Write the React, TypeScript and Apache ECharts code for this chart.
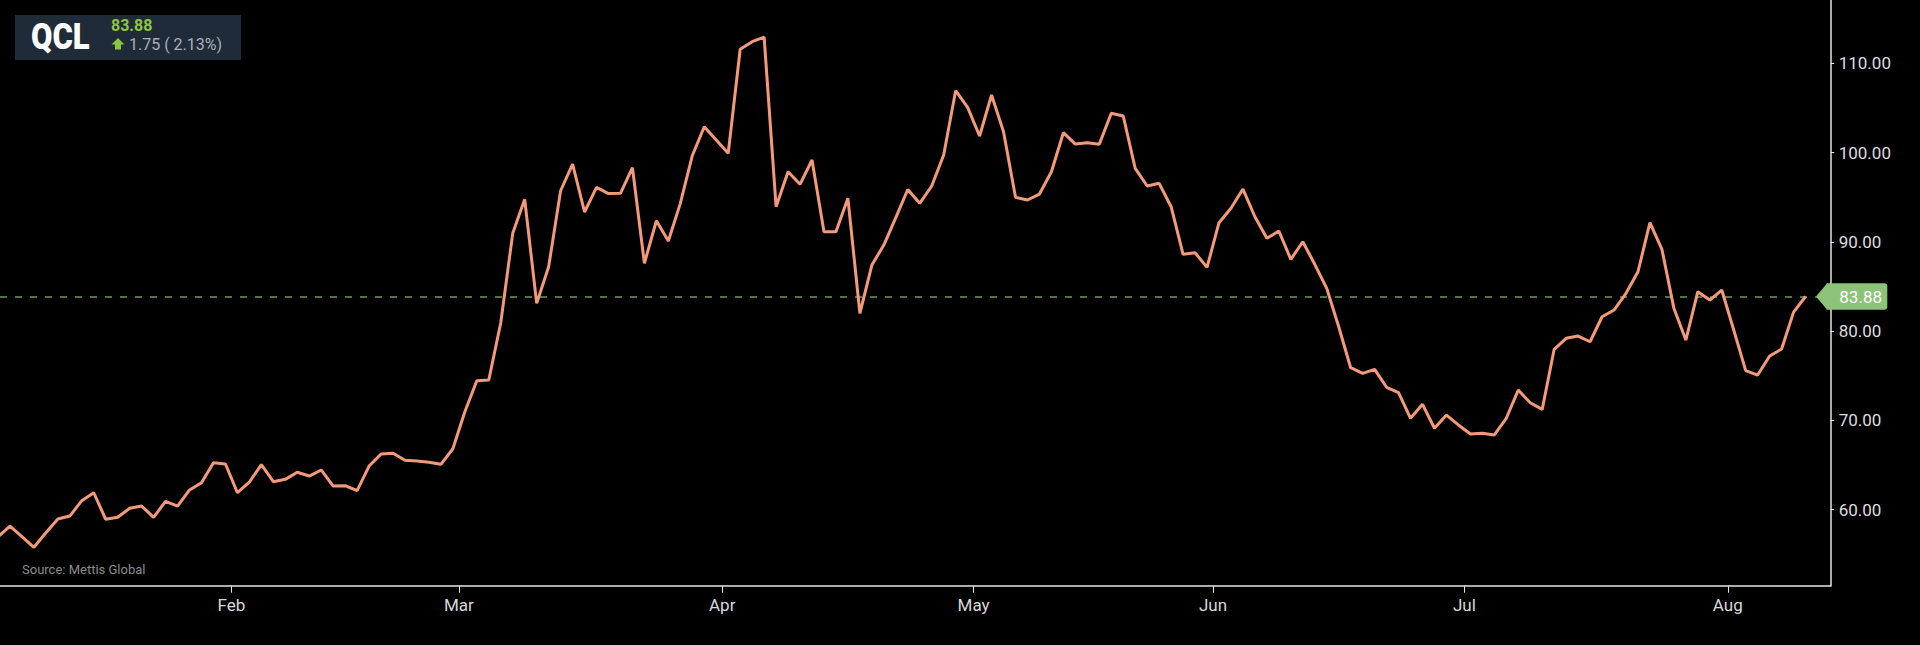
import React, { useEffect, useRef } from "react";
import * as echarts from "echarts";

const ticker = "QCL";
const sourceText = "Source: Mettis Global";
const lastPrice = 83.88;
const change = 1.75;
const changePct = 2.13;

const months = ["Jan", "Feb", "Mar", "Apr", "May", "Jun", "Jul", "Aug"];
const pointsPerMonth = [20, 19, 22, 21, 20, 21, 22, 7];

const prices = [
  56.97, 58.17, 56.98, 55.79, 57.42, 58.96, 59.29, 61.01, 61.9, 58.92,
  59.15, 60.16, 60.41, 59.15, 60.94, 60.41, 62.21, 63.02, 65.26, 65.12,
  61.9, 63.1, 65.04, 63.14, 63.4, 64.19, 63.77, 64.45, 62.65, 62.69,
  62.13, 64.89, 66.24, 66.32, 65.53, 65.45, 65.31, 65.08, 66.83,
  70.97, 74.45, 74.52, 80.94, 90.95, 94.76, 83.11, 87.21, 95.72, 98.71,
  93.34, 96.1, 95.4, 95.43, 98.3, 87.59, 92.36, 90.09, 94.31, 99.64,
  102.89, 101.4,
  99.91, 111.56, 112.41, 112.93, 93.93, 97.85, 96.44, 99.16, 91.13, 91.13,
  94.87, 81.99, 87.4, 89.64, 92.7, 95.86, 94.31, 96.25, 99.72, 106.92,
  105.06,
  101.85, 106.44, 102.33, 94.98, 94.68, 95.35, 97.85, 102.22, 100.95, 101.1,
  100.92, 104.39, 104.09, 98.23, 96.25, 96.55, 93.93, 88.6, 88.78, 87.14,
  92.14, 93.75, 95.91, 92.81, 90.39, 91.21, 88.04, 90.01, 87.48, 84.79,
  80.49, 75.9, 75.27, 75.72, 73.71, 73.1, 70.24, 71.8, 69.12, 70.6, 69.49,
  68.48, 68.56, 68.37, 70.24, 73.4, 71.98, 71.24, 77.96, 79.19, 79.45,
  78.81, 81.61, 82.36, 84.23, 86.65, 92.14, 89.16, 82.55, 79.0, 84.41,
  83.48, 84.6,
  80.12, 75.57, 75.08, 77.21, 78.0, 82.13, 83.88,
];

const yTicks = [60, 70, 80, 90, 100, 110];

const FONT = "Roboto, 'Noto Sans', sans-serif";

export default function App() {
  const ref = useRef<HTMLDivElement>(null);

  useEffect(() => {
    if (!ref.current) return;
    const chart = echarts.init(ref.current, undefined, { renderer: "svg" });

    const boundaries: { value: number; label: string }[] = [];
    let start = 0;
    pointsPerMonth.forEach((n, m) => {
      if (m > 0) boundaries.push({ value: start - 0.5, label: months[m] });
      start += n;
    });
    const boundaryValues = boundaries.map((b) => b.value);

    const xMin = 0.167;
    const xMax = 153.1;

    chart.setOption({
      animation: false,
      backgroundColor: "#000000",
      grid: { left: 0, right: 89.3, top: 0, bottom: 59.3, containLabel: false },
      xAxis: {
        type: "value",
        min: xMin,
        max: xMax,
        splitLine: { show: false },
        axisLine: { show: true, lineStyle: { color: "#e6e6e6", width: 1.5 } },
        axisTick: {
          show: true,
          customValues: boundaryValues,
          length: 7,
          lineStyle: { color: "#e6e6e6", width: 1 },
        },
        axisLabel: {
          customValues: boundaryValues,
          color: "#d8d8d8",
          fontSize: 17,
          fontFamily: FONT,
          margin: 11,
          formatter: (v: number) => {
            const b = boundaries.find((x) => Math.abs(x.value - v) < 0.01);
            return b ? b.label : "";
          },
        },
      },
      yAxis: {
        type: "value",
        position: "right",
        min: 51.49,
        max: 117.08,
        splitLine: { show: false },
        axisLine: { show: true, lineStyle: { color: "#e6e6e6", width: 1.5 } },
        axisTick: {
          show: true,
          customValues: yTicks,
          length: 3.5,
          lineStyle: { color: "#e6e6e6", width: 1 },
        },
        axisLabel: {
          customValues: yTicks,
          color: "#dedede",
          fontSize: 17,
          fontFamily: FONT,
          margin: 8,
          formatter: (v: number) => v.toFixed(2),
        },
      },
      series: [
        {
          type: "line",
          data: prices.map((v, i) => [i, v]),
          showSymbol: false,
          clip: true,
          lineStyle: { color: "#f39a7b", width: 3 },
          z: 3,
          markLine: {
            silent: true,
            symbol: ["none", "none"],
            label: { show: false },
            lineStyle: { type: [7, 8], color: "#6a9a58", width: 1.5 },
            data: [{ yAxis: lastPrice }],
            z: 2,
          },
        },
      ],
    });

    const yc = chart.convertToPixel({ yAxisIndex: 0 }, lastPrice) as number;
    const xr = chart.convertToPixel({ xAxisIndex: 0 }, xMax) as number;
    const tagH = 26.4;
    const tagColor = "#8cc378";

    chart.setOption({
      graphic: [
        {
          type: "rect",
          z: 100,
          shape: { x: 15, y: 15, width: 226, height: 45 },
          style: { fill: "#1f2b38" },
        },
        {
          type: "text",
          z: 101,
          x: 31,
          y: 36.5,
          scaleX: 0.84,
          style: {
            text: ticker,
            fill: "#ffffff",
            fontSize: 37,
            fontWeight: 900,
            fontFamily: FONT,
            textAlign: "left",
            textVerticalAlign: "middle",
          },
        },
        {
          type: "text",
          z: 101,
          x: 111,
          y: 25,
          style: {
            text: lastPrice.toFixed(2),
            fill: "#8cc63f",
            fontSize: 16,
            fontWeight: "bold",
            fontFamily: FONT,
            textAlign: "left",
            textVerticalAlign: "middle",
          },
        },
        {
          type: "polygon",
          z: 101,
          shape: {
            points: [
              [118, 38],
              [124.5, 44.5],
              [121, 44.5],
              [121, 49.5],
              [115, 49.5],
              [115, 44.5],
              [111.5, 44.5],
            ],
          },
          style: { fill: "#8cc63f" },
        },
        {
          type: "text",
          z: 101,
          x: 129,
          y: 44,
          style: {
            text: `${change.toFixed(2)} ( ${changePct.toFixed(2)}%)`,
            fill: "#a9b0b7",
            fontSize: 16,
            fontFamily: FONT,
            textAlign: "left",
            textVerticalAlign: "middle",
          },
        },
        {
          type: "text",
          z: 101,
          x: 22,
          y: 569,
          style: {
            text: sourceText,
            fill: "#8c8c8c",
            fontSize: 13,
            fontFamily: FONT,
            textAlign: "left",
            textVerticalAlign: "middle",
          },
        },
        {
          type: "polygon",
          z: 100,
          shape: {
            points: [
              [xr - 14.7, yc],
              [xr - 3.5, yc - tagH / 2],
              [xr - 3.5, yc + tagH / 2],
            ],
          },
          style: { fill: tagColor },
        },
        {
          type: "rect",
          z: 100,
          shape: { x: xr - 4, y: yc - tagH / 2, width: 60.6, height: tagH, r: [0, 3, 3, 0] },
          style: { fill: tagColor },
        },
        {
          type: "text",
          z: 101,
          x: xr + 8.6,
          y: yc + 0.5,
          style: {
            text: lastPrice.toFixed(2),
            fill: "#ffffff",
            fontSize: 17,
            fontFamily: FONT,
            textAlign: "left",
            textVerticalAlign: "middle",
          },
        },
      ],
    });

    return () => {
      chart.dispose();
    };
  }, []);

  return (
    <div
      ref={ref}
      style={{
        position: "fixed",
        left: 0,
        top: 0,
        width: 1920,
        height: 645,
        background: "#000",
      }}
    />
  );
}
